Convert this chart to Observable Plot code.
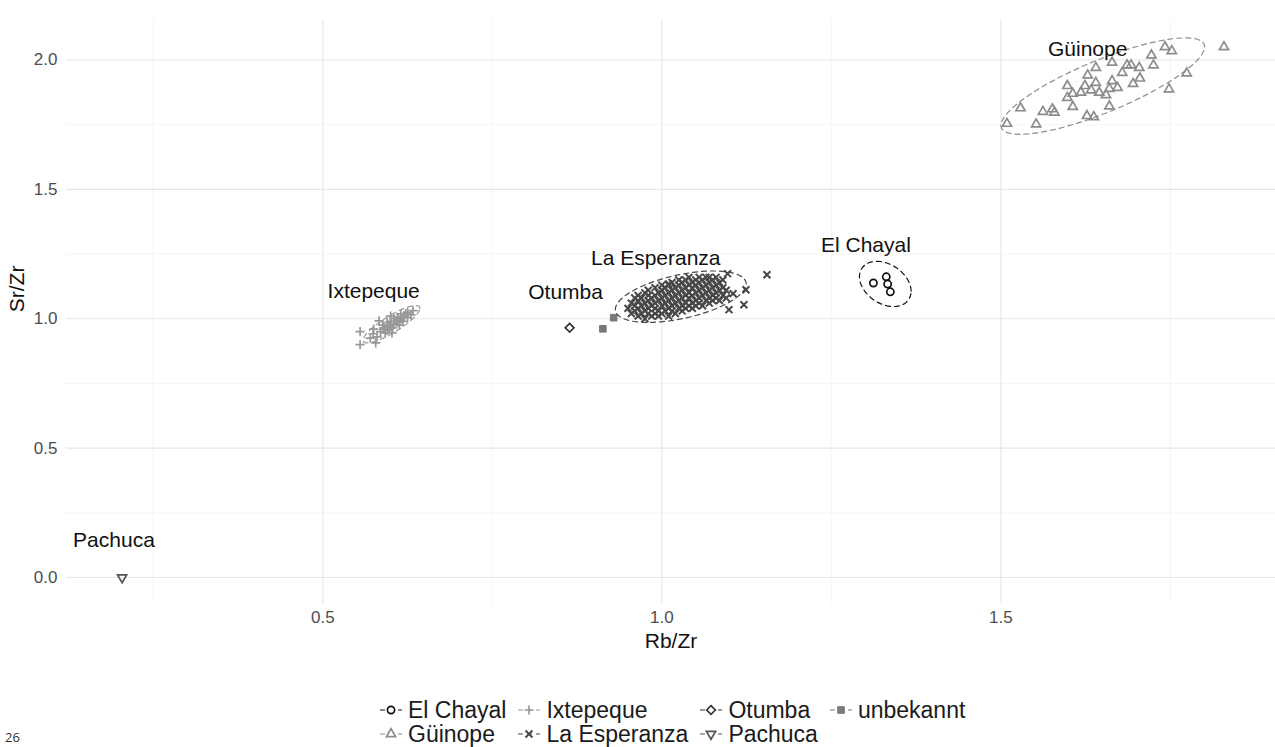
<!DOCTYPE html>
<html><head><meta charset="utf-8">
<script src="https://cdn.jsdelivr.net/npm/d3@7"></script>
<script src="https://cdn.jsdelivr.net/npm/@observablehq/plot@0.6"></script>
<style>
body{margin:0;background:#fff;font-family:"Liberation Sans",Arial,sans-serif;}
#wrap{position:relative;width:1275px;height:747px;overflow:hidden;}
#legend{position:absolute;left:380px;top:698px;}
#legend .grid{display:grid;grid-template-rows:24px 24px;grid-auto-flow:column;grid-auto-columns:auto;column-gap:12px;}
#legend .item{display:flex;align-items:center;font-size:23px;color:#1a1a1a;white-space:nowrap;}
#legend svg{margin-right:6px;}
#page{position:absolute;left:5px;top:730px;line-height:14px;font-family:"Open Sans",sans-serif;font-size:13px;color:#333;}
</style></head><body><div id="wrap"><div id="chart"></div><div id="legend"></div><div id="page">26</div></div>
<script>
// ---- data ----
const groups = ["El Chayal","Güinope","Ixtepeque","La Esperanza","Otumba","Pachuca","unbekannt"];
const groupColors = ["#111111","#8c8c8c","#999999","#484848","#333333","#555555","#7a7a7a"];
const groupShapes = ["circle","triangle","plus","times","diamond","triangleDown","square"];

const elChayalX = [1.312,1.331,1.333,1.337];
const elChayalY = [1.138,1.162,1.134,1.104];

const guinopeX = [1.829,1.742,1.752,1.722,1.664,1.640,1.686,1.692,1.704,1.725,1.679,1.628,1.774,1.705,1.664,1.695,1.640,1.624,1.598,1.672,1.660,1.633,1.748,1.618,1.606,1.645,1.655,1.598,1.660,1.606,1.576,1.562,1.579,1.529,1.627,1.637,1.509,1.552];
const guinopeY = [2.050,2.050,2.035,2.018,1.990,1.970,1.980,1.980,1.970,1.980,1.951,1.941,1.949,1.929,1.919,1.908,1.912,1.900,1.900,1.893,1.889,1.883,1.887,1.874,1.870,1.874,1.865,1.854,1.821,1.819,1.810,1.800,1.797,1.814,1.784,1.780,1.754,1.752];

const ixtepequeX = [0.555,0.555,0.574,0.578,0.583,0.590,0.633,0.615,0.625,0.585,0.590,0.595,0.597,0.600,0.603,0.605,0.607,0.610,0.612,0.600,0.595,0.592,0.588,0.615,0.618,0.620,0.622,0.610,0.605,0.598,0.602,0.580,0.570,0.575,0.600,0.613,0.625,0.630];
const ixtepequeY = [0.900,0.950,0.942,0.907,0.992,0.965,1.031,1.019,1.004,0.950,0.960,0.955,0.970,0.975,0.965,0.980,0.990,0.985,0.995,0.990,0.985,0.945,0.975,1.000,0.990,1.010,1.020,1.005,1.000,0.960,0.945,0.930,0.925,0.960,1.010,0.975,1.025,1.015];

const laEsperanzaX = [0.950,0.955,0.955,0.960,0.960,0.960,0.965,0.965,0.965,0.965,0.970,0.970,0.970,0.975,0.975,0.975,0.975,0.980,0.980,0.980,0.980,0.980,0.985,0.985,0.985,0.990,0.990,0.990,0.990,0.990,0.995,0.995,0.995,0.995,1.000,1.000,1.000,1.000,1.000,1.005,1.005,1.005,1.005,1.010,1.010,1.010,1.010,1.010,1.015,1.015,1.015,1.015,1.015,1.020,1.020,1.020,1.020,1.025,1.025,1.025,1.025,1.025,1.030,1.030,1.030,1.030,1.030,1.035,1.035,1.035,1.035,1.035,1.040,1.040,1.040,1.040,1.040,1.045,1.045,1.045,1.045,1.045,1.050,1.050,1.050,1.050,1.050,1.055,1.055,1.055,1.055,1.055,1.060,1.060,1.060,1.060,1.065,1.065,1.065,1.065,1.070,1.070,1.070,1.070,1.070,1.075,1.075,1.075,1.075,1.080,1.080,1.080,1.080,1.085,1.085,1.085,1.090,1.090,1.090,1.095,1.095,1.155,1.124,1.121,1.099,1.105,1.097,1.010];
const laEsperanzaY = [1.040,1.020,1.060,1.030,1.050,1.080,1.010,1.040,1.070,1.090,1.020,1.050,1.080,1.000,1.030,1.060,1.100,1.020,1.040,1.070,1.090,1.110,1.010,1.050,1.080,1.020,1.040,1.060,1.090,1.120,1.010,1.030,1.070,1.100,1.020,1.050,1.080,1.110,1.130,1.030,1.060,1.090,1.120,1.010,1.040,1.070,1.100,1.130,1.030,1.050,1.080,1.110,1.140,1.020,1.060,1.090,1.120,1.040,1.070,1.100,1.130,1.150,1.030,1.050,1.080,1.110,1.140,1.040,1.060,1.090,1.120,1.150,1.050,1.080,1.100,1.130,1.160,1.040,1.060,1.090,1.120,1.140,1.050,1.070,1.100,1.130,1.150,1.060,1.080,1.110,1.140,1.160,1.050,1.090,1.120,1.150,1.070,1.100,1.130,1.160,1.060,1.080,1.110,1.140,1.160,1.070,1.090,1.120,1.150,1.080,1.100,1.130,1.160,1.070,1.110,1.140,1.090,1.120,1.150,1.080,1.110,1.170,1.112,1.054,1.035,1.097,1.174,1.135];

const otumbaX = [0.864];
const otumbaY = [0.965];
const pachucaX = [0.204];
const pachucaY = [0.000];
const unbekanntX = [0.913,0.929];
const unbekanntY = [0.961,1.004];

const labelText = ["Güinope","La Esperanza","Otumba","Ixtepeque","El Chayal","Pachuca"];
const labelX = [1.628,0.991,0.858,0.575,1.301,0.192];
const labelY = [2.042,1.232,1.104,1.108,1.282,0.143];

const xTicks = [0.5,1.0,1.5];
const xMinor = [0.25,0.75,1.25,1.75];
const yTicks = [0.0,0.5,1.0,1.5,2.0];
const yMinor = [0.25,0.75,1.25,1.75];

// ---- build ----
const seriesX = [elChayalX,guinopeX,ixtepequeX,laEsperanzaX,otumbaX,pachucaX,unbekanntX];
const seriesY = [elChayalY,guinopeY,ixtepequeY,laEsperanzaY,otumbaY,pachucaY,unbekanntY];

const rad = s => Math.sqrt(s/Math.PI);
const shapeDefs = {
  circle:{draw(c,s){const r=rad(s)*0.78;c.moveTo(r,0);c.arc(0,0,r,0,2*Math.PI);}},
  triangle:{draw(c,s){const k=rad(s)*1.15;c.moveTo(0,-k);c.lineTo(0.866*k,0.5*k);c.lineTo(-0.866*k,0.5*k);c.closePath();}},
  triangleDown:{draw(c,s){const k=rad(s)*1.15;c.moveTo(0,k);c.lineTo(0.866*k,-0.5*k);c.lineTo(-0.866*k,-0.5*k);c.closePath();}},
  plus:{draw(c,s){const r=rad(s)*1.0;c.moveTo(-r,0);c.lineTo(r,0);c.moveTo(0,-r);c.lineTo(0,r);}},
  times:{draw(c,s){const r=rad(s)*0.75;c.moveTo(-r,-r);c.lineTo(r,r);c.moveTo(-r,r);c.lineTo(r,-r);}},
  diamond:{draw(c,s){const r=rad(s)*0.95;c.moveTo(0,-r);c.lineTo(r,0);c.lineTo(0,r);c.lineTo(-r,0);c.closePath();}},
  square:{draw(c,s){const r=rad(s)*0.72;c.rect(-r,-r,2*r,2*r);}}
};
const shapeStroke = {circle:1.7,triangle:1.7,triangleDown:1.7,plus:1.7,times:2.0,diamond:1.7,square:1.0};

function covTrob(pts, nu=5, maxit=25, tol=0.01){
  const n=pts.length;
  let loc=[d3.mean(pts,d=>d[0]), d3.mean(pts,d=>d[1])];
  let w=new Array(n).fill(1);
  let X;
  for(let it=0;it<maxit;it++){
    const w0=w.slice();
    X=pts.map(d=>[d[0]-loc[0],d[1]-loc[1]]);
    const sw=d3.sum(w);
    let a=0,b=0,c=0;
    X.forEach((x,i)=>{a+=w[i]*x[0]*x[0];b+=w[i]*x[0]*x[1];c+=w[i]*x[1]*x[1];});
    a/=sw;b/=sw;c/=sw;
    const det=a*c-b*b;
    w=X.map(x=>(nu+2)/(nu+(c*x[0]*x[0]-2*b*x[0]*x[1]+a*x[1]*x[1])/det));
    const sw2=d3.sum(w);
    loc=[d3.sum(pts,(d,i)=>w[i]*d[0])/sw2, d3.sum(pts,(d,i)=>w[i]*d[1])/sw2];
    if(w.every((v,i)=>Math.abs(v-w0[i])<tol)) break;
  }
  let a=0,b=0,c=0;
  X.forEach((x,i)=>{a+=w[i]*x[0]*x[0];b+=w[i]*x[0]*x[1];c+=w[i]*x[1]*x[1];});
  return {center:loc, cov:[a/n,b/n,c/n]};
}
function ellipse(xs, ys, level=0.95, segs=51){
  const pts=xs.map((x,i)=>[x,ys[i]]);
  const n=pts.length;
  const {center,cov}=covTrob(pts);
  const d2=n-1;
  const qf=(d2/2)*(Math.pow(1-level,-2/d2)-1);
  const r=Math.sqrt(2*qf);
  const [a,b,c]=cov;
  const r00=Math.sqrt(a), r01=b/r00, r11=Math.sqrt(Math.max(c-r01*r01,0));
  const out=[];
  for(let k=0;k<segs;k++){
    const t=2*Math.PI*k/(segs-1);
    const u=Math.cos(t), v=Math.sin(t);
    out.push({x:center[0]+r*u*r00, y:center[1]+r*(u*r01+v*r11)});
  }
  return out;
}

const marks=[];
marks.push(Plot.ruleX(xMinor,{stroke:"#f0f0f0",strokeWidth:0.7}));
marks.push(Plot.ruleY(yMinor,{stroke:"#f0f0f0",strokeWidth:0.7}));
marks.push(Plot.ruleX(xTicks,{stroke:"#e6e6e6",strokeWidth:1.1}));
marks.push(Plot.ruleY(yTicks,{stroke:"#e6e6e6",strokeWidth:1.1}));
groups.forEach((g,i)=>{
  const data=seriesX[i].map((x,j)=>({x,y:seriesY[i][j]}));
  const shp=groupShapes[i];
  marks.push(Plot.dot(data,{x:"x",y:"y",r:4.6,symbol:shapeDefs[shp],
    stroke:groupColors[i],fill:shp==="square"?groupColors[i]:"none",strokeWidth:shapeStroke[shp]}));
});
groups.forEach((g,i)=>{
  if(seriesX[i].length<3) return;
  marks.push(Plot.line(ellipse(seriesX[i],seriesY[i]),{x:"x",y:"y",stroke:groupColors[i],strokeWidth:1.2,strokeDasharray:"5,4",curve:"linear"}));
});
const labels=labelText.map((t,i)=>({t,x:labelX[i],y:labelY[i]}));
marks.push(Plot.text(labels,{x:"x",y:"y",text:"t",fontSize:21,fill:"#111"}));
marks.push(Plot.axisX(xTicks,{tickSize:0,tickPadding:7,fontSize:17,fill:"#4d4d4d",tickFormat:d3.format(".1f"),label:null}));
marks.push(Plot.axisY(yTicks,{tickSize:0,tickPadding:9,fontSize:17,fill:"#4d4d4d",tickFormat:d3.format(".1f"),label:null}));
marks.push(Plot.text(["Rb/Zr"],{frameAnchor:"bottom",dy:44,fontSize:21,fill:"#111",text:d=>d}));
marks.push(Plot.text(["Sr/Zr"],{frameAnchor:"left",dx:-49,rotate:-90,fontSize:21,fill:"#111",text:d=>d}));

const chart=Plot.plot({
  width:1275,height:665,marginLeft:66,marginRight:0,marginTop:20,marginBottom:61.5,
  x:{domain:[0.122,1.905],axis:null},
  y:{domain:[-0.1025,2.1525],axis:null},
  style:{fontFamily:"'Liberation Sans',Arial,sans-serif",background:"#fff"},
  marks
});
document.getElementById("chart").appendChild(chart);

// legend
const grid=document.createElement("div");grid.className="grid";
groups.forEach((g,i)=>{
  const item=document.createElement("div");item.className="item";
  const svg=d3.create("svg").attr("width",22).attr("height",22);
  svg.append("line").attr("x1",0).attr("x2",22).attr("y1",11).attr("y2",11)
    .attr("stroke",groupColors[i]).attr("stroke-width",1.2).attr("stroke-dasharray","5,4");
  const shp=groupShapes[i];
  svg.append("path").attr("transform","translate(11,11)")
    .attr("d",d3.symbol(shapeDefs[shp],Math.PI*4.6*4.6)())
    .attr("fill",shp==="square"?groupColors[i]:"white")
    .attr("stroke",groupColors[i]).attr("stroke-width",shapeStroke[shp]);
  item.appendChild(svg.node());
  const sp=document.createElement("span");sp.textContent=g;
  item.appendChild(sp);
  grid.appendChild(item);
});
document.getElementById("legend").appendChild(grid);
</script></body></html>
